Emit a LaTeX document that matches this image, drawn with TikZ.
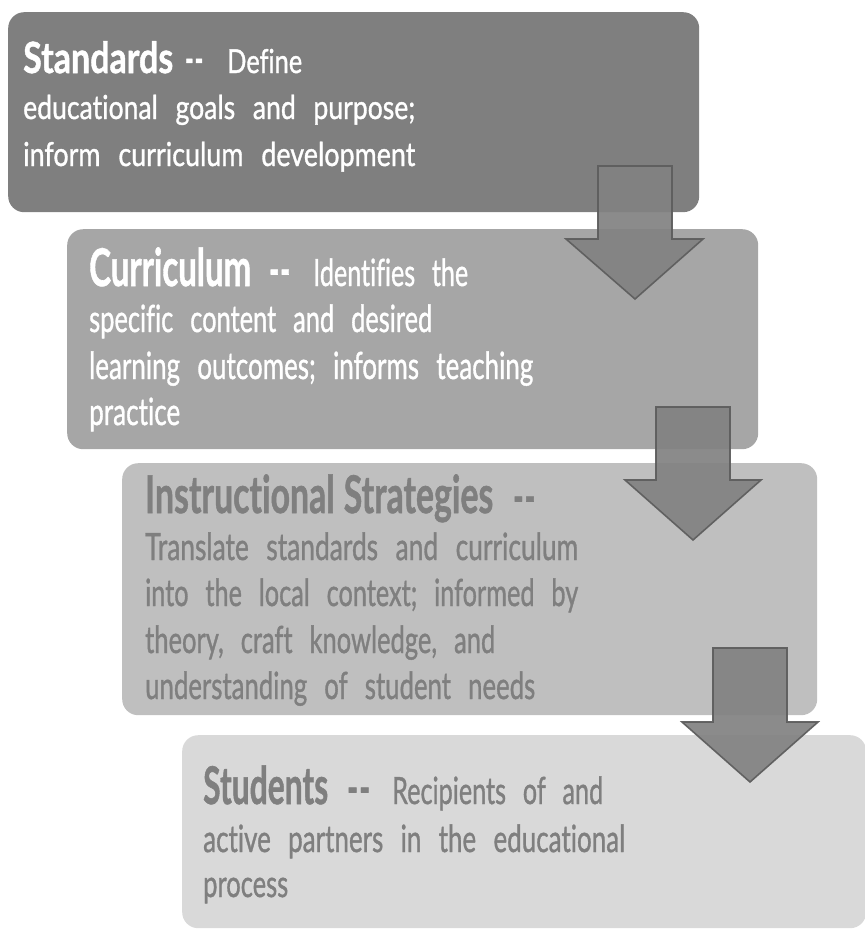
\documentclass[tikz,border=0pt]{standalone}
\usepackage{fontspec}
\setmainfont{Lato}[Ligatures={NoCommon}, WordSpace=2.6, FakeBold=1.2]
\usepackage{graphicx}
\definecolor{fillA}{HTML}{7F7F7F}
\definecolor{fillB}{HTML}{A6A6A6}
\definecolor{fillC}{HTML}{BFBFBF}
\definecolor{fillD}{HTML}{D9D9D9}
\definecolor{txtgray}{HTML}{7F7F7F}
\definecolor{arrfill}{HTML}{828282}
\definecolor{arrline}{HTML}{5E5E5E}
\newcommand\rl[2]{\resizebox{#1pt}{\height}{#2}}
\newcommand\hd[3]{\resizebox{#1pt}{\height}{\fontsize{#2}{#2}\selectfont\bfseries #3}}
\newcommand\dd[2]{\resizebox{#1pt}{\height}{\fontsize{#2}{#2}\selectfont\bfseries -\kern2pt-}}
\tikzset{
  panel/.style={rectangle, rounded corners=16pt, inner sep=0pt, draw=none, anchor=north west},
  lineA/.style={anchor=base west, inner sep=0pt, text=white, font=\fontsize{33}{40}\selectfont},
  lineB/.style={anchor=base west, inner sep=0pt, text=white, font=\fontsize{37.5}{45}\selectfont},
  lineC/.style={anchor=base west, inner sep=0pt, text=txtgray, font=\fontsize{37.5}{45}\selectfont},
  blockarrow/.style={fill=arrfill, fill opacity=0.93, draw=arrline, draw opacity=0.95, line width=1.6pt, line join=miter}
}
\begin{document}
\begin{tikzpicture}[x=1pt,y=-1pt]
\useasboundingbox (0,0) rectangle (865,930);
% panels
\node[panel, fill=fillA, minimum width=691pt, minimum height=200pt] (b1) at (8,12) {};
\node[panel, fill=fillB, minimum width=691pt, minimum height=220pt] (b2) at (67,229) {};
\node[panel, fill=fillC, minimum width=695pt, minimum height=252pt] (b3) at (122,463) {};
\node[panel, fill=fillD, minimum width=684pt, minimum height=193pt] (b4) at (182,735) {};
% box 1 text
\node[lineA] (t1a) at (23,73) {\hd{150}{43}{Standards}\hspace{12pt}\dd{18}{40}\hspace{24pt}\rl{75}{Define}};
\node[lineA] (t1b) at (23,119) {\rl{392}{educational goals and purpose;}};
\node[lineA] (t1c) at (23,166) {\rl{392}{inform curriculum development}};
% box 2 text
\node[lineB] (t2a) at (89,286) {\hd{162}{52}{Curriculum}\hspace{18pt}\dd{21}{46}\hspace{23pt}\rl{155}{Identifies the}};
\node[lineB] (t2b) at (89,332) {\rl{343}{specific content and desired}};
\node[lineB] (t2c) at (89,379) {\rl{444}{learning outcomes; informs teaching}};
\node[lineB] (t2d) at (89,425) {\rl{91}{practice}};
% box 3 text
\node[lineC] (t3a) at (145,513) {\hd{348}{52}{Instructional\hspace{14pt}Strategies}\hspace{20pt}\dd{22}{46}};
\node[lineC] (t3b) at (145,560) {\rl{433}{Translate standards and curriculum}};
\node[lineC] (t3c) at (145,606) {\rl{433}{into the local context; informed by}};
\node[lineC] (t3d) at (145,653) {\rl{350}{theory, craft knowledge, and}};
\node[lineC] (t3e) at (145,699) {\rl{390}{understanding of student needs}};
% box 4 text
\node[lineC] (t4a) at (203,804) {\hd{125}{52}{Students}\hspace{19pt}\dd{23}{46}\hspace{22pt}\rl{211}{Recipients of and}};
\node[lineC] (t4b) at (203,852) {\rl{422}{active partners in the educational}};
\node[lineC] (t4c) at (203,897) {\rl{85}{process}};
% block arrows
\draw[blockarrow] (598,166) -- (672,166) -- (672,239) -- (703,239) -- (635,299) -- (566,239) -- (598,239) -- cycle;
\draw[blockarrow] (656,407) -- (730,407) -- (730,480) -- (761,480) -- (693,540) -- (625,480) -- (656,480) -- cycle;
\draw[blockarrow] (713,648) -- (787,648) -- (787,722) -- (818,722) -- (750,782) -- (682,722) -- (713,722) -- cycle;
\end{tikzpicture}
\end{document}
